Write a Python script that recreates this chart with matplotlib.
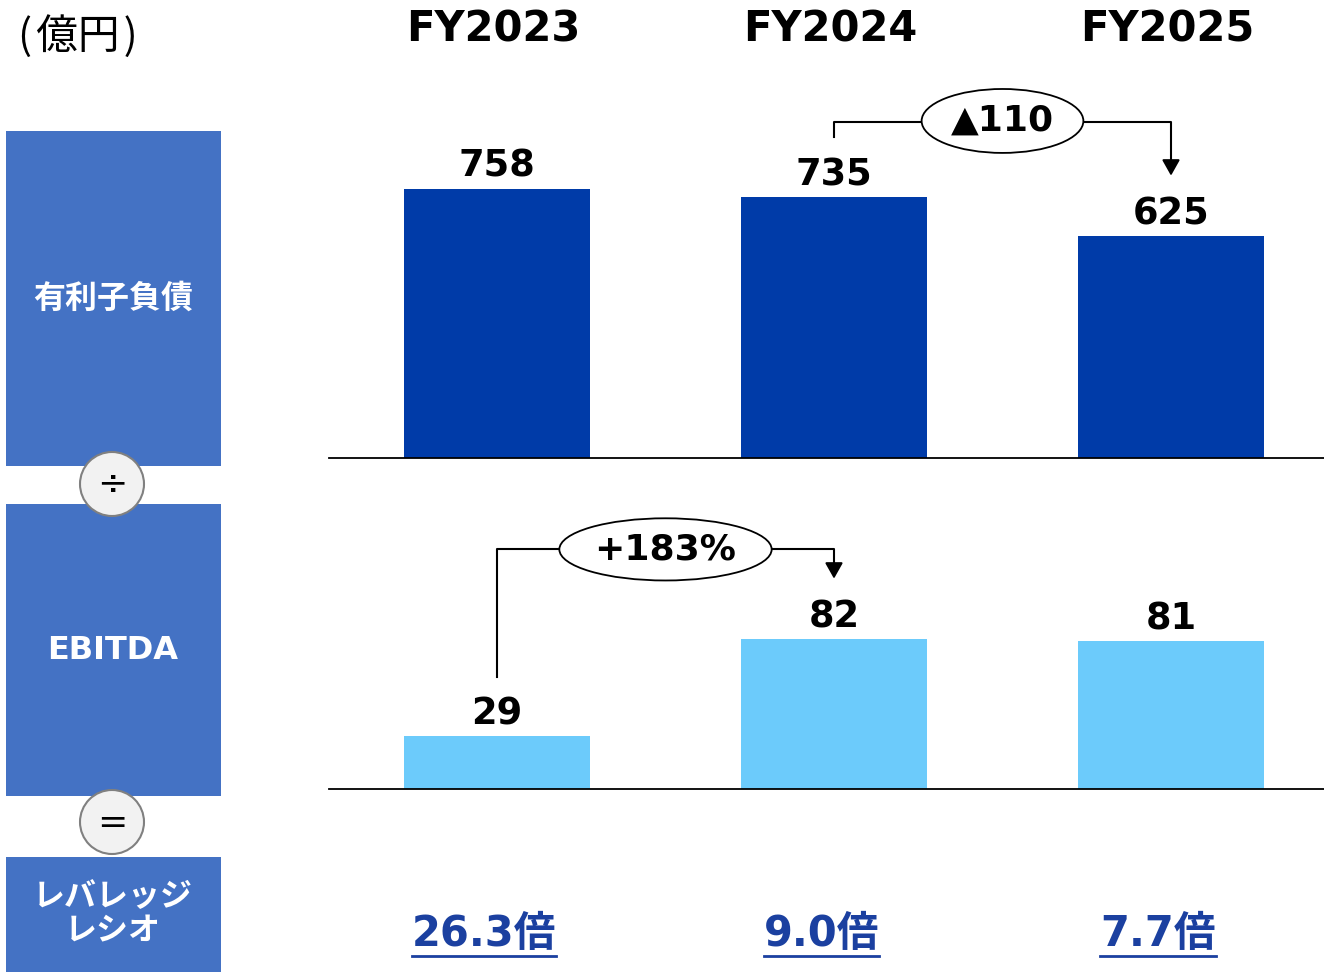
import matplotlib.pyplot as plt
from matplotlib.patches import Rectangle, Circle, Ellipse
from matplotlib.lines import Line2D
from matplotlib.transforms import blended_transform_factory

years = ['FY2023', 'FY2024', 'FY2025']
debt = [758, 735, 625]
ebitda = [29, 82, 81]
ratio = ['26.3倍', '9.0倍', '7.7倍']
debt_change = '▲110'
ebitda_change = '+183%'

DARK = '#003BA8'
LIGHT = '#6CCBFB'
BOX = '#4472C4'
RATIO_C = '#1B40A0'
JP = ['Noto Sans CJK JP', 'DejaVu Sans']
NUM = ['DejaVu Sans', 'Noto Sans CJK JP']

W, H = 1324, 972
fig = plt.figure(figsize=(W / 100, H / 100), dpi=100)

# background layer in pixel coordinates for the left side labels
bg = fig.add_axes([0, 0, 1, 1], zorder=0)
bg.set_xlim(0, W)
bg.set_ylim(H, 0)
bg.axis('off')

boxes = [(131, 466, '有利子負債', JP), (504, 796, 'EBITDA', NUM), (857, 972, 'レバレッジ\nレシオ', JP)]
for top, bot, label, fam in boxes:
    bg.add_patch(Rectangle((6, top), 215, bot - top, color=BOX, lw=0))
    bg.text(113, (top + bot) / 2, label, color='white', fontsize=23, fontweight='bold',
            family=fam, ha='center', va='center', linespacing=1.1)

for cy, sym in [(484, '÷'), (822, '=')]:
    bg.add_patch(Circle((112, cy), 32, facecolor='#F2F2F2', edgecolor='#808080', lw=1.5, zorder=3))
    bg.text(112, cy + 1, sym, fontsize=26, ha='center', va='center', zorder=4)

bg.text(18, 36, '(\u200a億円\u200a)', fontsize=30, family=JP, ha='left', va='center')

xs = list(range(len(years)))
xlim = (-0.4985, 2.454)
bw = 0.549
ARROW = dict(arrowstyle='-|>,head_width=0.45,head_length=0.8', color='black', lw=1.5,
             mutation_scale=12, shrinkA=0, shrinkB=0)


def setup(ax):
    ax.set_xlim(*xlim)
    for s in ['top', 'left', 'right']:
        ax.spines[s].set_visible(False)
    ax.spines['bottom'].set_linewidth(1.3)
    ax.set_xticks([])
    ax.set_yticks([])
    ax.patch.set_alpha(0)


# top: debt
ax1 = fig.add_axes([329 / W, 1 - 458 / H, 995 / W, 358 / H], zorder=1)
setup(ax1)
ax1.set_ylim(0, 1008)
ax1.bar(xs, debt, width=bw, color=DARK)
for x, v in zip(xs, debt):
    ax1.annotate(str(v), (x, v), xytext=(0, 8.5), textcoords='offset points',
                 ha='center', va='baseline', fontsize=26.5, fontweight='bold', family=NUM)

# bracket arrow 735 -> 625
y_top = debt[0] + 188
ax1.plot([1, 1, 2, 2], [debt[1] + 170, y_top, y_top, debt[2] + 200], color='black', lw=1.5, clip_on=False)
ax1.annotate('', xy=(2, debt[2] + 170), xytext=(2, debt[2] + 205), arrowprops=ARROW, annotation_clip=False)
ax1.add_patch(Ellipse((1.5, y_top + 3), 0.48, 180, facecolor='white', edgecolor='black', lw=1.3,
                      zorder=3, clip_on=False))
ax1.text(1.5, y_top + 3, debt_change, ha='center', va='center', fontsize=26, fontweight='bold',
         family=NUM, zorder=4, clip_on=False)

# bottom: EBITDA
ax2 = fig.add_axes([329 / W, 1 - 789 / H, 995 / W, 289 / H], zorder=1)
setup(ax2)
ax2.set_ylim(0, 158)
ax2.bar(xs, ebitda, width=bw, color=LIGHT)
for x, v in zip(xs, ebitda):
    ax2.annotate(str(v), (x, v), xytext=(0, 8.5), textcoords='offset points',
                 ha='center', va='baseline', fontsize=26.5, fontweight='bold', family=NUM)

y_br = ebitda[1] + 49
ax2.plot([0, 0, 1, 1], [ebitda[0] + 32, y_br, y_br, ebitda[1] + 38], color='black', lw=1.5, clip_on=False)
ax2.annotate('', xy=(1, ebitda[1] + 33), xytext=(1, ebitda[1] + 40), arrowprops=ARROW, annotation_clip=False)
ax2.add_patch(Ellipse((0.5, y_br), 0.63, 34, facecolor='white', edgecolor='black', lw=1.3,
                      zorder=3, clip_on=False))
ax2.text(0.5, y_br, ebitda_change, ha='center', va='center', fontsize=26, fontweight='bold',
         family=NUM, zorder=4)

# year headers and ratio texts: x in data units, y in figure fraction
tr1 = blended_transform_factory(ax1.transData, fig.transFigure)
tr2 = blended_transform_factory(ax2.transData, fig.transFigure)
for x, yr in zip(xs, years):
    ax1.text(x - 0.01, 1 - 30 / H, yr, transform=tr1, ha='center', va='center', fontsize=30,
             fontweight='bold', family=NUM, clip_on=False)
texts = []
for x, r in zip(xs, ratio):
    t = ax2.text(x - 0.038, 1 - 934 / H, r, transform=tr2, ha='center', va='center', fontsize=30,
                 fontweight='bold', family=NUM, color=RATIO_C, clip_on=False)
    texts.append(t)

fig.canvas.draw()
rnd = fig.canvas.get_renderer()
for t in texts:
    bb = t.get_window_extent(rnd)
    y = 1 - 956 / H
    fig.add_artist(Line2D([bb.x0 / W, bb.x1 / W], [y, y], color=RATIO_C, lw=2))

fig.savefig('out.png', dpi=100)
